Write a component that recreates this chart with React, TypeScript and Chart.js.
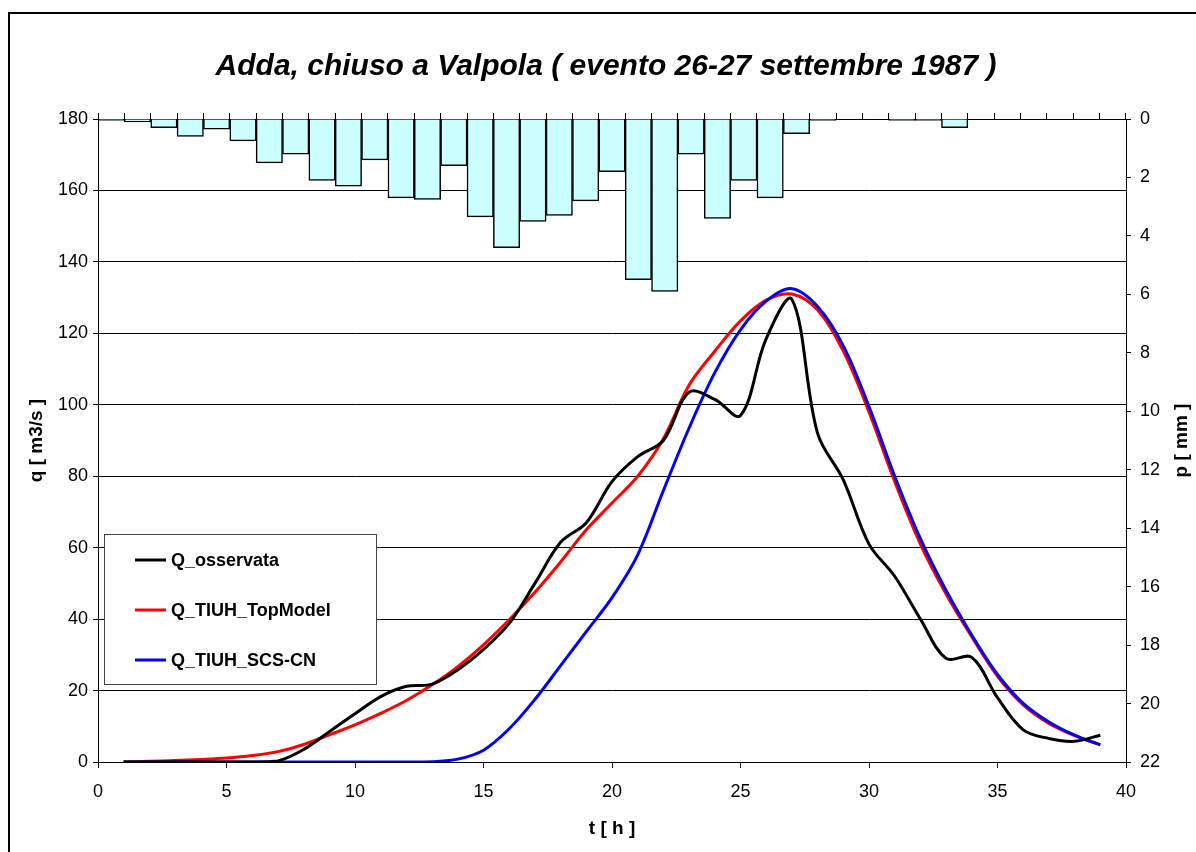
import React, { useEffect, useRef } from "react";
import { Chart, registerables } from "chart.js";

Chart.register(...registerables);

const TITLE = "Adda, chiuso a Valpola ( evento 26-27 settembre 1987 )";
const X_TITLE = "t [ h ]";
const Y_TITLE = "q [ m3/s ]";
const Y2_TITLE = "p [ mm ]";

// rainfall intervals (39 hourly steps on the secondary category axis)
const rainHours = [
  "1", "2", "3", "4", "5", "6", "7", "8", "9", "10",
  "11", "12", "13", "14", "15", "16", "17", "18", "19", "20",
  "21", "22", "23", "24", "25", "26", "27", "28", "29", "30",
  "31", "32", "33", "34", "35", "36", "37", "38", "39",
];
const rainMm = [
  0.05, 0.1, 0.3, 0.6, 0.35, 0.75, 1.5, 1.2, 2.1, 2.3,
  1.4, 2.7, 2.75, 1.6, 3.35, 4.4, 3.5, 3.3, 2.8, 1.8,
  5.5, 5.9, 1.2, 3.4, 2.1, 2.7, 0.5, 0.05, 0, 0,
  0.05, 0.05, 0.3, 0, 0, 0, 0, 0, 0,
];

// time of discharge samples [h]
const tHours = [
  1, 2, 3, 4, 5, 6, 7, 8, 9, 10,
  11, 12, 13, 14, 15, 16, 17, 18, 19, 20,
  21, 22, 23, 24, 25, 26, 27, 28, 29, 30,
  31, 32, 33, 34, 35, 36, 37, 38, 39,
];
const qObserved = [
  0, 0, 0, 0, 0, 0, 0.3, 3.5, 8.5, 13.5,
  18.3, 21.2, 21.8, 25.8, 31.5, 38.8, 50, 61.5, 67, 78.5,
  85.5, 90, 103.5, 101.5, 97, 118.5, 129.5, 92, 79, 61,
  52, 40, 29, 29.3, 18, 9, 6.6, 5.8, 7.5,
];
const qTopModel = [
  0, 0.2, 0.4, 0.7, 1.1, 1.8, 2.9, 4.9, 7.6, 10.4,
  13.6, 17.2, 21.6, 26.7, 32.8, 39.8, 47.5, 56, 65, 72.5,
  80, 90.5, 105.5, 115, 123.5, 129.3, 131, 126.5, 115, 98,
  78.5, 61, 47, 35, 24, 16, 10.8, 7.4, 4.8,
];
const qScsCn = [
  0, 0, 0, 0, 0, 0, 0, 0, 0, 0,
  0, 0, 0.1, 0.8, 3.3, 9.3, 17.5, 27, 36.5, 46,
  58, 76, 93.5, 109, 121, 129, 132.5, 127.5, 116.5, 99.5,
  80, 62.5, 48, 35.5, 24.5, 16.4, 11.2, 7.5, 4.8,
];

const qTicks = [0, 20, 40, 60, 80, 100, 120, 140, 160, 180];
const pTicks = [0, 2, 4, 6, 8, 10, 12, 14, 16, 18, 20, 22];
const tTicks = [0, 5, 10, 15, 20, 25, 30, 35, 40];

const seriesNames = ["Q_osservata", "Q_TIUH_TopModel", "Q_TIUH_SCS-CN"];
const seriesColors = ["#000000", "#ff0000", "#0000ff"];

const FONT = '"Liberation Sans", Arial, sans-serif';

const decorPlugin = {
  id: "decor",
  afterDraw(chart: any) {
    const ctx = chart.ctx as CanvasRenderingContext2D;
    const area = chart.chartArea;
    ctx.save();
    // outer frame
    ctx.strokeStyle = "#000";
    ctx.lineWidth = 2;
    ctx.strokeRect(9, 13, 1400, 1000);

    // title
    ctx.fillStyle = "#000";
    ctx.font = `italic bold 30px ${FONT}`;
    ctx.textAlign = "center";
    ctx.textBaseline = "middle";
    ctx.fillText(TITLE, 606, 67);

    // axis titles
    ctx.font = `bold 19px ${FONT}`;
    ctx.fillText(X_TITLE, (area.left + area.right) / 2, 829);
    const cy = (area.top + area.bottom) / 2;
    ctx.save();
    ctx.translate(37, cy);
    ctx.rotate(-Math.PI / 2);
    ctx.fillText(Y_TITLE, 0, 0);
    ctx.restore();
    ctx.save();
    ctx.translate(1182, cy);
    ctx.rotate(-Math.PI / 2);
    ctx.fillText(Y2_TITLE, 0, 0);
    ctx.restore();

    // legend box
    const bx = 104.5, by = 534.5, bw = 272, bh = 150;
    ctx.fillStyle = "#fff";
    ctx.fillRect(bx, by, bw, bh);
    ctx.strokeStyle = "#444";
    ctx.lineWidth = 1;
    ctx.strokeRect(bx, by, bw, bh);
    ctx.font = `bold 18px ${FONT}`;
    ctx.textAlign = "left";
    ctx.textBaseline = "middle";
    seriesNames.forEach((name, i) => {
      const y = 560 + i * 50;
      ctx.strokeStyle = seriesColors[i];
      ctx.lineWidth = 3;
      ctx.beginPath();
      ctx.moveTo(135, y);
      ctx.lineTo(166, y);
      ctx.stroke();
      ctx.fillStyle = "#000";
      ctx.fillText(name, 171, y + 1);
    });
    ctx.restore();
  },
};

export default function App() {
  const canvasRef = useRef<HTMLCanvasElement | null>(null);

  useEffect(() => {
    if (!canvasRef.current) return;
    const mk = (vals: number[]) => tHours.map((t, i) => ({ x: t, y: vals[i] }));
    const lineCommon = {
      type: "line" as const,
      xAxisID: "x",
      yAxisID: "y",
      pointRadius: 0,
      borderWidth: 3,
      tension: 0.35,
      fill: false,
    };
    const chart = new Chart(canvasRef.current, {
      type: "bar",
      data: {
        labels: rainHours,
        datasets: [
          { ...lineCommon, label: seriesNames[0], data: mk(qObserved), borderColor: seriesColors[0], order: 1 },
          { ...lineCommon, label: seriesNames[1], data: mk(qTopModel), borderColor: seriesColors[1], order: 3 },
          { ...lineCommon, label: seriesNames[2], data: mk(qScsCn), borderColor: seriesColors[2], order: 2 },
          {
            type: "bar",
            label: "p",
            data: rainMm,
            xAxisID: "xBar",
            yAxisID: "yP",
            backgroundColor: "#ccffff",
            borderColor: "#000",
            borderWidth: 1.5,
            barPercentage: 1,
            categoryPercentage: 1,
            grouped: false,
            order: 10,
          } as any,
        ],
      } as any,
      options: {
        responsive: false,
        animation: false,
        events: [],
        layout: { padding: { left: 8, right: 8, top: 113, bottom: 8 } },
        plugins: {
          legend: { display: false },
          title: { display: false },
          tooltip: { enabled: false },
        },
        scales: {
          x: {
            type: "linear",
            position: "bottom",
            offset: false,
            min: 0,
            max: 40,
            afterBuildTicks: (s: any) => { s.ticks = tTicks.map((v) => ({ value: v })); },
            ticks: { color: "#000", font: { family: FONT, size: 18 }, padding: 13, maxRotation: 0 },
            grid: { offset: false, drawOnChartArea: false, drawTicks: true, tickLength: 6, color: "#000" },
            border: { color: "#000", width: 1 },
            afterFit: (s: any) => { s.height = 82; },
          },
          xBar: {
            type: "category",
            position: "top",
            offset: true,
            ticks: { display: false },
            grid: { offset: true, drawOnChartArea: false, drawTicks: true, tickLength: 6, color: "#000" },
            border: { color: "#000", width: 1 },
            afterFit: (s: any) => { s.height = 6; },
          },
          y: {
            type: "linear",
            position: "left",
            min: 0,
            max: 180,
            afterBuildTicks: (s: any) => { s.ticks = qTicks.map((v) => ({ value: v })); },
            ticks: { color: "#000", font: { family: FONT, size: 18 }, padding: 5 },
            grid: { color: "#000", lineWidth: 1, tickLength: 5 },
            border: { color: "#000", width: 1 },
            afterFit: (s: any) => { s.width = 90; },
          },
          yP: {
            type: "linear",
            position: "right",
            reverse: true,
            min: 0,
            max: 22,
            afterBuildTicks: (s: any) => { s.ticks = pTicks.map((v) => ({ value: v })); },
            ticks: { color: "#000", font: { family: FONT, size: 18 }, padding: 9 },
            grid: { drawOnChartArea: false, tickLength: 5, color: "#000" },
            border: { color: "#000", width: 1 },
            afterFit: (s: any) => { s.width = 62; },
          },
        },
      } as any,
      plugins: [decorPlugin],
    });
    return () => chart.destroy();
  }, []);

  return (
    <div style={{ position: "absolute", left: 0, top: 0, width: 1196, height: 852, background: "#fff" }}>
      <canvas ref={canvasRef} width={1196} height={852} style={{ display: "block" }} />
    </div>
  );
}
